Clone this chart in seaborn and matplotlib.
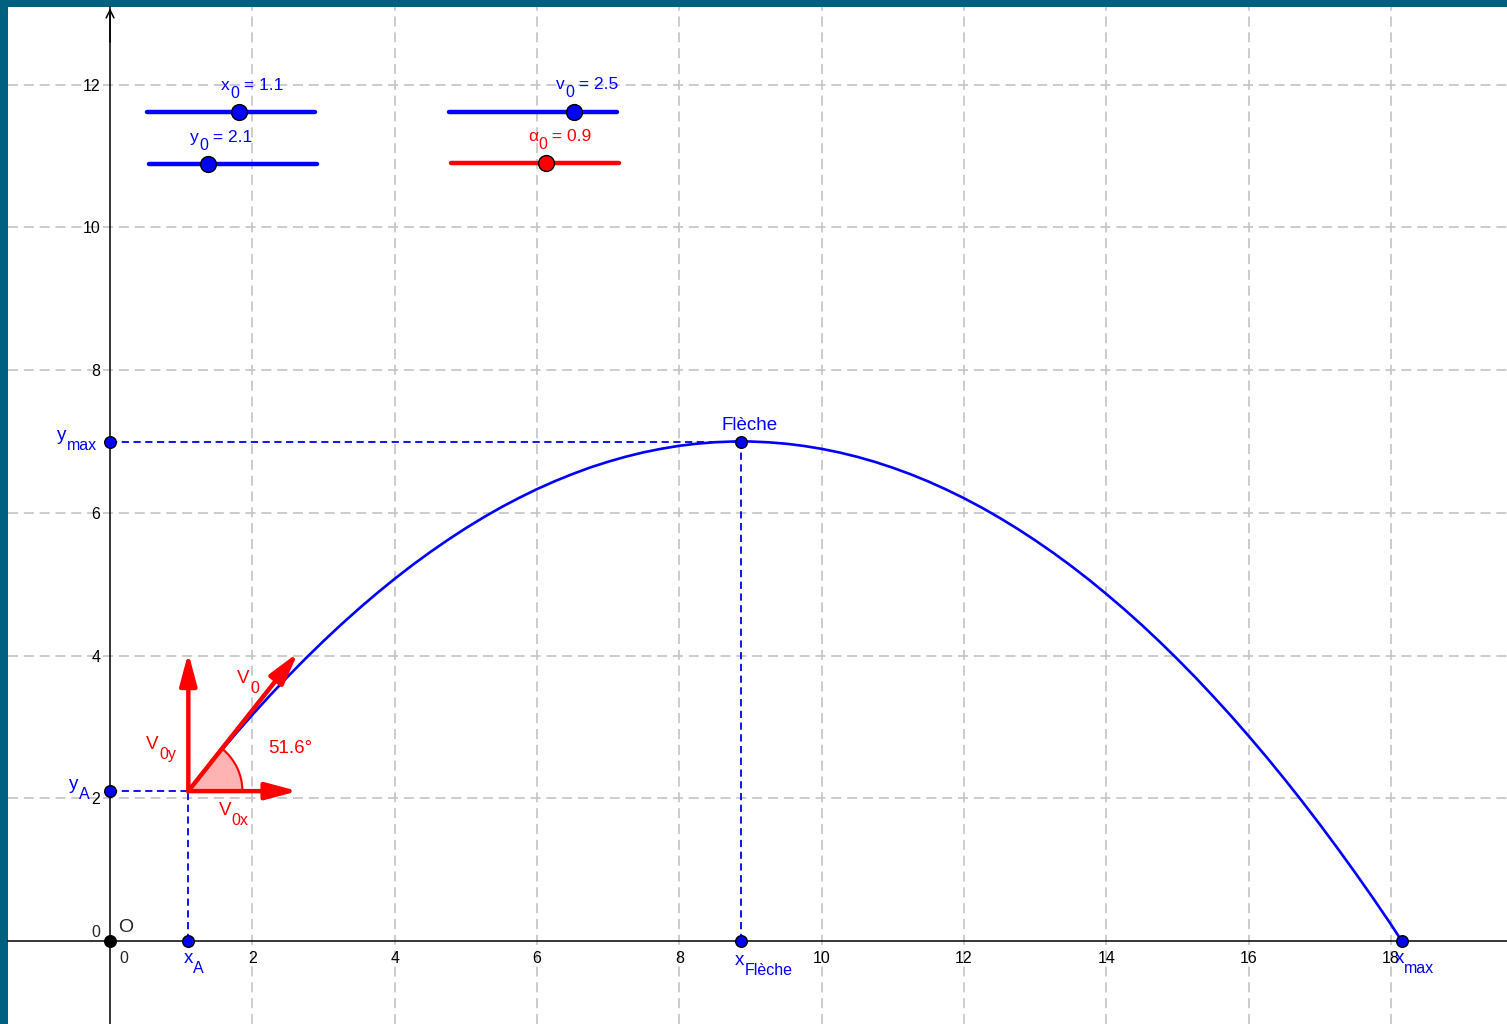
import numpy as np
import pandas as pd
import matplotlib
matplotlib.use("Agg")
import matplotlib.pyplot as plt
from matplotlib.patches import Wedge
import seaborn as sns

# ---------------- data ----------------
traj_x = [1.1, 1.25, 1.5, 1.75, 2.0, 2.25, 2.5, 2.75, 3.0, 3.25, 3.5, 3.75, 4.0, 4.25, 4.5,
          4.75, 5.0, 5.25, 5.5, 5.75, 6.0, 6.25, 6.5, 6.75, 7.0, 7.25, 7.5, 7.75, 8.0, 8.25,
          8.5, 8.75, 9.0, 9.25, 9.5, 9.75, 10.0, 10.25, 10.5, 10.75, 11.0, 11.25, 11.5, 11.75,
          12.0, 12.25, 12.5, 12.75, 13.0, 13.25, 13.5, 13.75, 14.0, 14.25, 14.5, 14.75, 15.0,
          15.25, 15.5, 15.75, 16.0, 16.25, 16.5, 16.75, 17.0, 17.25, 17.5, 17.75, 18.0, 18.15]
traj_y = [2.100, 2.288, 2.592, 2.886, 3.170, 3.444, 3.707, 3.961, 4.204, 4.437, 4.660, 4.873,
          5.076, 5.269, 5.451, 5.623, 5.786, 5.938, 6.080, 6.211, 6.333, 6.444, 6.545, 6.637,
          6.717, 6.788, 6.849, 6.899, 6.940, 6.970, 6.990, 7.000, 7.000, 6.989, 6.969, 6.938,
          6.897, 6.846, 6.785, 6.714, 6.632, 6.541, 6.439, 6.327, 6.205, 6.073, 5.930, 5.778,
          5.615, 5.443, 5.260, 5.067, 4.863, 4.650, 4.427, 4.193, 3.949, 3.695, 3.430, 3.157,
          2.872, 2.578, 2.273, 1.958, 1.633, 1.297, 0.952, 0.597, 0.231, 0.0]

launch_x, launch_y = 1.1, 2.1          # point A
apex_x, apex_y = 8.87, 7.0             # Flèche
range_x = 18.15                        # x_max
v0_tip = (2.64, 4.04)                  # tip of the V0 vector
angle_deg = 51.6

slider_names = ["x_0", "y_0", "v_0", "α_0"]
slider_values = [1.1, 2.1, 2.5, 0.9]
slider_knob = [1.81, 1.38, 6.52, 6.13]

x_ticks = [2, 4, 6, 8, 10, 12, 14, 16, 18]
y_ticks = [2, 4, 6, 8, 10, 12]

# ---------------- style ----------------
sns.set_style("white")
plt.rcParams["font.family"] = ["Liberation Sans", "DejaVu Sans"]

BLUE = "#0000ff"
RED = "#ff0000"

fig = plt.figure(figsize=(15.07, 10.24), dpi=100)
fig.patch.set_facecolor("#006080")
ax = fig.add_axes([8 / 1507, 0, 1499 / 1507, 1017 / 1024])
ax.set_facecolor("white")
ax.set_xlim(-1.434, 19.63)
ax.set_ylim(-1.164, 13.09)


def sublabel(x, y, main, sub, rest="", color="black", fs=13.5, subfs=11.5, drop=6.5):
    t = ax.text(x, y, main, color=color, fontsize=fs, ha="left", va="bottom", zorder=8)
    s = ax.annotate(sub, xy=(1, 0), xycoords=t, xytext=(0.3, -drop),
                    textcoords="offset points", color=color, fontsize=subfs,
                    ha="left", va="bottom", zorder=8)
    if rest:
        ax.annotate(rest, xy=(1, 0), xycoords=s, xytext=(0, drop),
                    textcoords="offset points", color=color, fontsize=fs,
                    ha="left", va="bottom", zorder=8)
    return t


# axes through origin
for s in ["top", "right"]:
    ax.spines[s].set_visible(False)
for s in ["left", "bottom"]:
    ax.spines[s].set_position(("data", 0))
    ax.spines[s].set_color("black")
    ax.spines[s].set_linewidth(1.1)
    ax.spines[s].set_zorder(3)
ax.set_xticks(x_ticks)
ax.set_yticks(y_ticks)
ax.tick_params(direction="out", length=4, width=1.1, labelsize=11.5, pad=3, colors="black")
ax.grid(True, color="#c4c4c4", lw=1.2, linestyle=(0, (6, 3.5)), zorder=0)
ax.set_axisbelow(True)
ax.annotate("", xy=(0, 13.07), xytext=(0, 12.6),
            arrowprops=dict(arrowstyle="->", lw=1.1, color="black",
                            shrinkA=0, shrinkB=0, mutation_scale=14))
ax.text(-0.26, 0.06, "0", fontsize=11.5, ha="left", va="baseline")
ax.text(0.13, -0.31, "0", fontsize=11.5, ha="left", va="baseline")
ax.text(0.11, 0.13, "O", fontsize=14, ha="left", va="baseline")

# dashed projection lines
dash = (0, (4, 2.5))
ax.plot([0, launch_x], [launch_y, launch_y], color=BLUE, lw=1.3, ls=dash, zorder=2)
ax.plot([launch_x, launch_x], [0, launch_y], color=BLUE, lw=1.3, ls=dash, zorder=2)
ax.plot([0, apex_x], [apex_y, apex_y], color=BLUE, lw=1.3, ls=dash, zorder=2)
ax.plot([apex_x, apex_x], [0, apex_y], color=BLUE, lw=1.3, ls=dash, zorder=2)

# trajectory
traj = pd.DataFrame({"x": traj_x, "y": traj_y})
sns.lineplot(data=traj, x="x", y="y", ax=ax, color=BLUE, lw=1.9, sort=False,
             estimator=None, zorder=4, solid_joinstyle="round")
ax.set_xlabel("")
ax.set_ylabel("")

# angle sector
ax.add_patch(Wedge((launch_x, launch_y), 0.76, 0, angle_deg, facecolor="#ffb3b3",
                   edgecolor=RED, lw=1.5, zorder=5))

# velocity vectors
arrow_kw = dict(arrowstyle="-|>,head_length=1.2,head_width=0.32", lw=3.2, color=RED,
                shrinkA=0, shrinkB=0, mutation_scale=16)
ax.annotate("", xy=v0_tip, xytext=(launch_x, launch_y), arrowprops=arrow_kw, zorder=6)
ax.annotate("", xy=(launch_x, v0_tip[1]), xytext=(launch_x, launch_y), arrowprops=arrow_kw, zorder=6)
ax.annotate("", xy=(v0_tip[0], launch_y), xytext=(launch_x, launch_y), arrowprops=arrow_kw, zorder=6)

sublabel(1.785, 3.56, "V", "0", color=RED)
sublabel(0.506, 2.63, "V", "0y", color=RED)
sublabel(1.53, 1.71, "V", "0x", color=RED)
ax.text(2.22, 2.64, f"{angle_deg}°", color=RED, fontsize=13.5, ha="left", va="baseline")

# points
pts = pd.DataFrame({
    "x": [launch_x, 0, 0, apex_x, apex_x, range_x],
    "y": [0, launch_y, apex_y, 0, apex_y, 0],
})
sns.scatterplot(data=pts, x="x", y="y", ax=ax, s=70, color=BLUE, edgecolor="black",
                linewidth=1.0, zorder=7)
sns.scatterplot(x=[0], y=[0], ax=ax, s=70, color="black", edgecolor="black",
                linewidth=1.0, zorder=7)
ax.set_xlabel("")
ax.set_ylabel("")

sublabel(1.03, -0.37, "x", "A", color=BLUE)
sublabel(-0.745, 6.97, "y", "max", color=BLUE)
sublabel(-0.576, 2.07, "y", "A", color=BLUE)
sublabel(8.78, -0.39, "x", "Flèche", color=BLUE)
sublabel(18.05, -0.37, "x", "max", color=BLUE)
ax.text(8.59, 7.16, "Flèche", color=BLUE, fontsize=13.5, ha="left", va="baseline")

# sliders
slider_lines = [(0.52, 2.88, 11.62), (0.55, 2.91, 10.89), (4.76, 7.13, 11.62), (4.79, 7.15, 10.91)]
slider_colors = [BLUE, BLUE, BLUE, RED]
label_pos = [(1.56, 11.89), (1.12, 11.16), (6.27, 11.90), (5.87, 11.17)]
for name, val, knob, (xa, xb, yy), col, (lx, ly) in zip(slider_names, slider_values, slider_knob,
                                                         slider_lines, slider_colors, label_pos):
    ax.plot([xa, xb], [yy, yy], color=col, lw=3.2, solid_capstyle="round", zorder=5)
    ax.scatter([knob], [yy], s=130, color=col, edgecolor="black", linewidth=1.0, zorder=6)
    base, sub = name.split("_")
    sublabel(lx, ly, base, sub, f" = {val}", color=col, fs=12.5, subfs=11.5, drop=6)

fig.savefig("out.png", dpi=100, facecolor=fig.get_facecolor())
